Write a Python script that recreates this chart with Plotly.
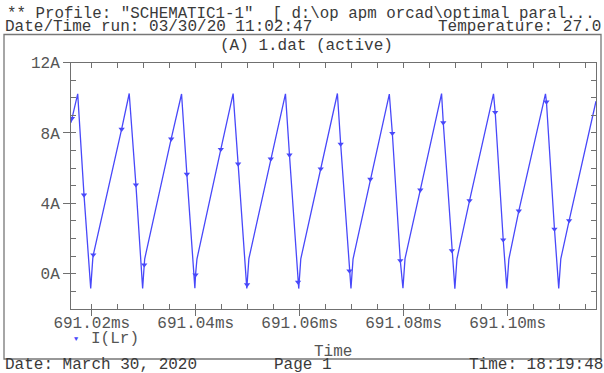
import plotly.graph_objects as go

W, H = 604, 373

# ---- I(Lr) waveform (time in ms, current in A) ----
# turning points of the sawtooth: crests, troughs and the knee just after each trough
crest_t = [691.01729, 691.02720, 691.03727, 691.04719, 691.05726,
           691.06725, 691.07724, 691.08729, 691.09728, 691.10728]
crest_i = [10.22, 10.24, 10.21, 10.23, 10.22, 10.24, 10.21, 10.23, 10.22, 10.22]

trough_t = [691.01979, 691.02978, 691.03983, 691.04982, 691.05981,
            691.06986, 691.07986, 691.08985, 691.09984, 691.10983]
trough_i = [-0.83, -0.84, -0.82, -0.83, -0.84, -0.83, -0.82, -0.84, -0.83, -0.83]

knee_t = [691.02019, 691.03018, 691.04023, 691.05022, 691.06021,
          691.07026, 691.08026, 691.09025, 691.10024, 691.11023]
knee_i = [0.86, 0.85, 0.84, 0.86, 0.85, 0.84, 0.86, 0.85, 0.84, 0.85]

edge_t = [691.01600, 691.11700]
edge_i = [8.58, 9.80]

# sample points that carry the trace symbol
mark_t = [691.01619, 691.01850, 691.02029, 691.02574, 691.02849, 691.03009,
          691.03527, 691.03829, 691.03996, 691.04482, 691.04815, 691.04987,
          691.05443, 691.05803, 691.05968, 691.06404, 691.06788, 691.06956,
          691.07359, 691.07782, 691.07935, 691.08320, 691.08762, 691.08927,
          691.09267, 691.09761, 691.09915, 691.10215, 691.10747, 691.10901,
          691.11183]
mark_i = [8.83, 4.48, 1.08, 8.21, 5.05, 0.51,
          7.66, 5.66, -0.06, 7.07, 6.24, -0.62,
          6.52, 6.75, -0.47, 5.96, 7.37, 0.17,
          5.37, 7.98, 0.75, 4.76, 8.58, 1.32,
          4.16, 9.17, 1.93, 3.57, 9.76, 2.54,
          3.02]

# axis ticks
x_range = [691.016, 691.117]
x_major = [691.02, 691.04, 691.06, 691.08, 691.10]
x_labels = ["691.02ms", "691.04ms", "691.06ms", "691.08ms", "691.10ms"]
y_range = [-2, 12]
y_major = [0, 4, 8, 12]
y_labels = ["0A", "4A", "8A", "12A"]

# ---- styling ----
MONO = "Liberation Mono"
FS = 16
TRACE = "rgb(72,72,250)"
AXIS = "#707070"
TXT = "#3a3a3a"
TICKTXT = "#555555"


def px(x):
    return x / W


def py(y):
    return 1 - y / H


pts = sorted(zip(crest_t + trough_t + knee_t + edge_t + mark_t,
                 crest_i + trough_i + knee_i + edge_i + mark_i))
line_t = [p[0] for p in pts]
line_i = [p[1] for p in pts]

fig = go.Figure()
fig.add_trace(go.Scatter(x=line_t, y=line_i, mode="lines",
                         line=dict(color=TRACE, width=1.3),
                         hoverinfo="skip", showlegend=False))
fig.add_trace(go.Scatter(x=mark_t, y=mark_i, mode="markers",
                         marker=dict(symbol="triangle-down", size=5.5, color=TRACE,
                                     line=dict(width=0)),
                         hoverinfo="skip", showlegend=False))
# binds the outer tick/label axes
fig.add_trace(go.Scatter(x=[], y=[], xaxis="x2", yaxis="y2",
                         hoverinfo="skip", showlegend=False))

xdom = [px(71), px(596)]
ydom = [py(309), py(62.5)]

tick_common = dict(tickcolor=AXIS, tickwidth=1.2, showgrid=False, zeroline=False,
                   automargin=False)

fig.update_layout(
    width=W, height=H,
    margin=dict(l=0, r=0, t=0, b=0, pad=0, autoexpand=False),
    paper_bgcolor="white", plot_bgcolor="white",
    showlegend=False,
    xaxis=dict(domain=xdom, range=x_range, showline=True, linecolor=AXIS,
               linewidth=1.2, mirror="ticks", ticks="inside", ticklen=5,
               tickvals=x_major, showticklabels=False,
               minor=dict(tick0=691.0, dtick=0.005, ticks="inside", ticklen=5,
                          tickcolor=AXIS, tickwidth=1.2, showgrid=False),
               **tick_common),
    yaxis=dict(domain=ydom, range=y_range, showline=True, linecolor=AXIS,
               linewidth=1.2, mirror="ticks", ticks="inside", ticklen=5,
               tickvals=y_major, showticklabels=False,
               minor=dict(tick0=0, dtick=1, ticks="inside", ticklen=5,
                          tickcolor=AXIS, tickwidth=1.2, showgrid=False),
               **tick_common),
    xaxis2=dict(domain=xdom, range=x_range, overlaying="x", anchor="y",
                side="bottom", showline=False, ticks="outside", ticklen=6,
                tickvals=x_major, ticktext=x_labels, ticklabelstandoff=-7,
                tickfont=dict(family=MONO, size=FS, color=TICKTXT),
                **tick_common),
    yaxis2=dict(domain=ydom, range=y_range, overlaying="y", anchor="x",
                side="left", showline=False, ticks="outside", ticklen=7,
                tickvals=y_major, ticktext=y_labels,
                tickfont=dict(family=MONO, size=FS, color=TICKTXT),
                **tick_common),
)

# outer frame of the page
fig.add_shape(type="rect", xref="paper", yref="paper",
              x0=px(4), x1=px(601), y0=py(359), y1=py(34.5),
              line=dict(color="#777777", width=1.3))


def label(text, x, baseline, anchor="left", size=FS, color=TXT):
    # place a line of text by its baseline (box top = baseline - ascent)
    top = baseline - 0.833 * size
    fig.add_annotation(text=text, xref="paper", yref="paper", x=px(x), y=py(top),
                       xanchor=anchor, yanchor="top", showarrow=False,
                       borderpad=0,
                       font=dict(family=MONO, size=size, color=color))


label('** Profile: "SCHEMATIC1-1"  [ d:\\op apm orcad\\optimal paral...', 6, 17.5,
      size=15.8)
label("Date/Time run: 03/30/20 11:02:47", 4, 30.8)
label("Temperature: 27.0", 602, 30.8, anchor="right")
label("(A) 1.dat (active)", 306, 49, anchor="center")
label("Time", 333.3, 355, anchor="center", color=TICKTXT)
label("I(Lr)", 90, 342, color=TICKTXT)
label("\u25bc", 76, 339.8, anchor="center", size=7, color=TRACE)
label("Date: March 30, 2020", 4, 368.3)
label("Page 1", 303, 368.3, anchor="center")
label("Time: 18:19:48", 604, 368.3, anchor="right")

fig.write_html("out.html")
